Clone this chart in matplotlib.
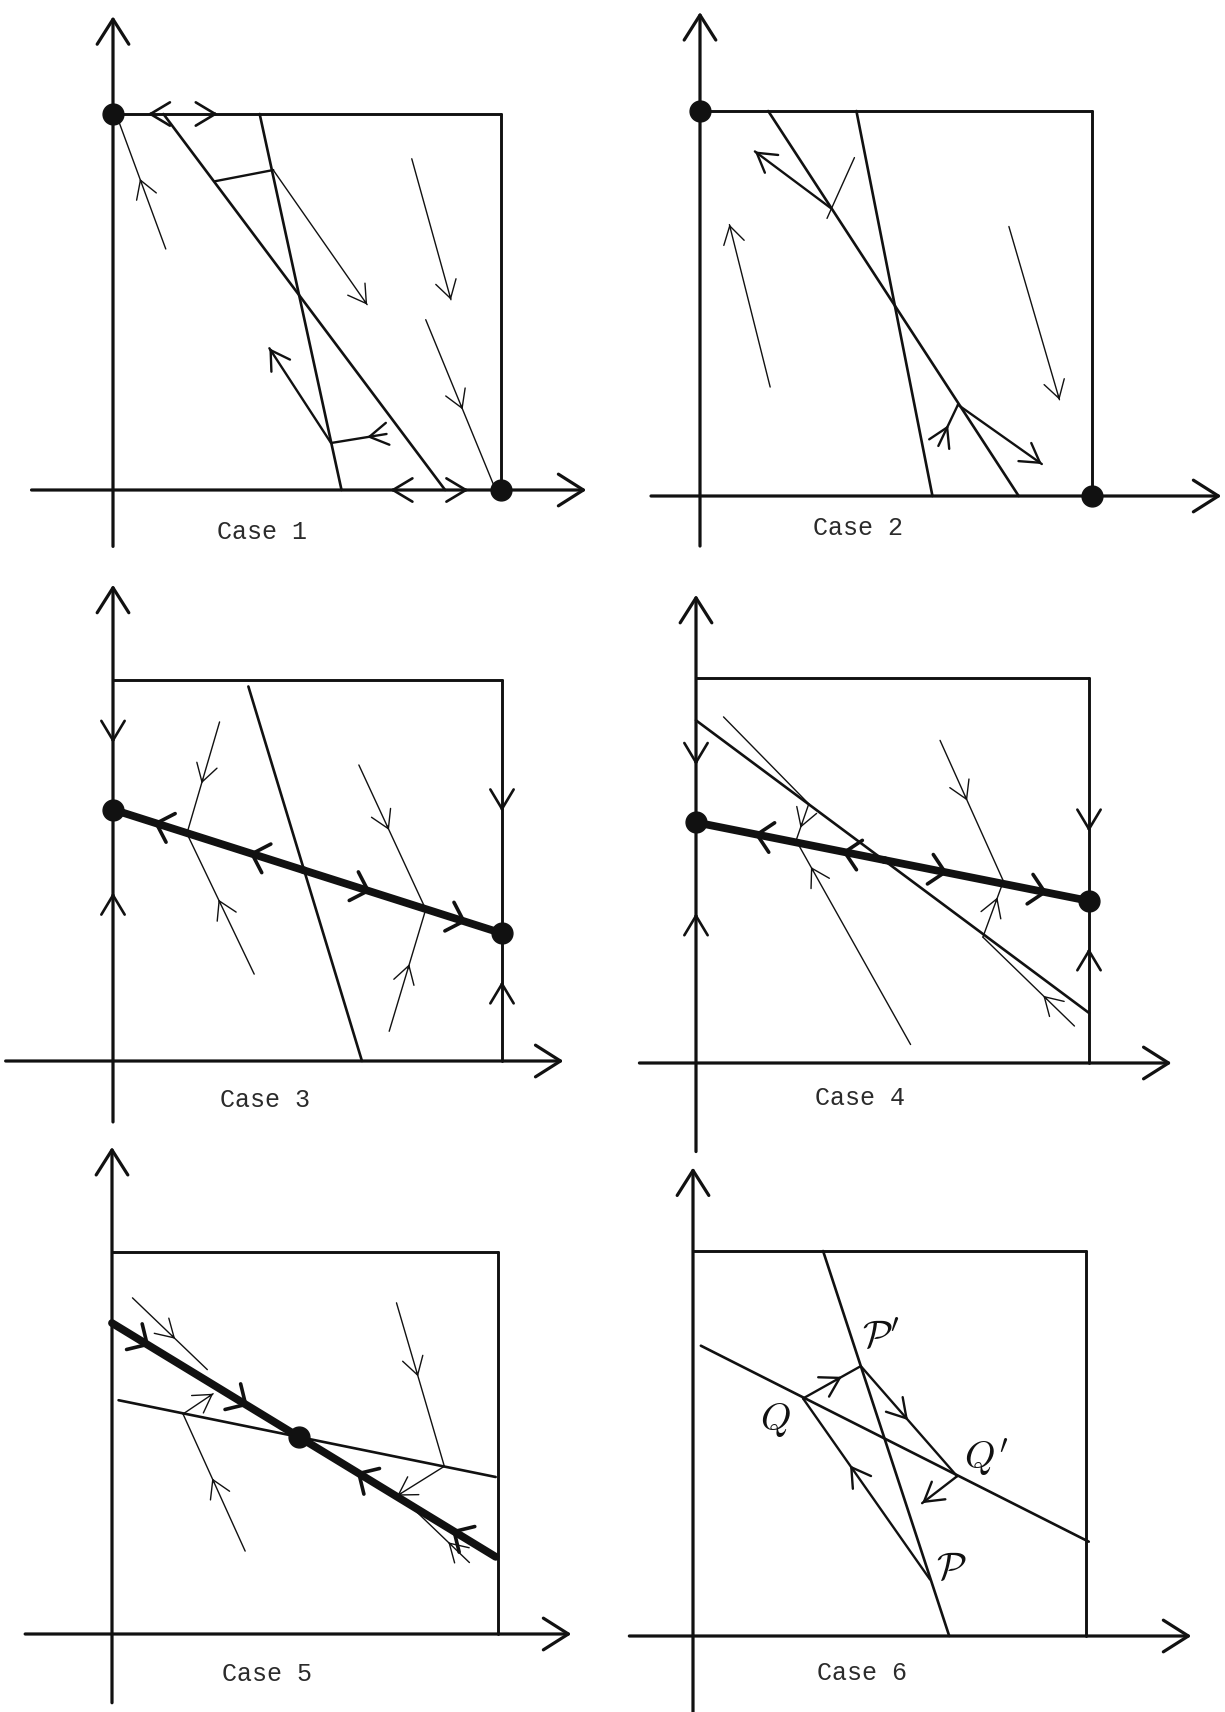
"""Six phase diagrams (Cases 1-6) redrawn from a scanned figure.

Every panel uses its own unit square: the origin sits at (0, 0) and the
corner of the box at (1, 1). Segments run in the direction of the flow, so an
arrowhead placed at fraction t of a segment points the right way.
"""

import matplotlib
matplotlib.use("Agg")
import matplotlib.pyplot as plt
import numpy as np

W, H, DPI = 1225, 1712, 100
INK = "#111111"

CASES = ["Case 1", "Case 2", "Case 3", "Case 4", "Case 5", "Case 6"]

# where each panel's origin lands on the page, and the box size, in pixels
ORIGIN_PX = {"Case 1": (113, 490), "Case 2": (700, 496),
             "Case 3": (113, 1061), "Case 4": (696, 1063),
             "Case 5": (112, 1634), "Case 6": (693, 1636)}
BOX_PX = {"Case 1": (388, 376), "Case 2": (392, 385),
          "Case 3": (389, 381), "Case 4": (393, 385),
          "Case 5": (386, 382), "Case 6": (393, 385)}

# x axis from x_lo to x_hi, y axis from y_lo to y_hi
AXIS_SPAN = {"Case 1": (-0.21, 1.22, -0.15, 1.26),
             "Case 2": (-0.125, 1.33, -0.13, 1.257),
             "Case 3": (-0.276, 1.158, -0.16, 1.25),
             "Case 4": (-0.144, 1.21, -0.23, 1.216),
             "Case 5": (-0.225, 1.19, -0.18, 1.275),
             "Case 6": (-0.162, 1.268, -0.2, 1.217)}

NULLCLINES = {
    "Case 1": [((0.13, 1.0), (0.856, 0.0)), ((0.378, 1.0), (0.589, 0.0))],
    "Case 2": [((0.174, 1.0), (0.813, 0.0)), ((0.399, 1.0), (0.593, 0.0))],
    "Case 3": [((0.348, 0.983), (0.64, 0.0))],
    "Case 4": [((0.0, 0.89), (1.0, 0.13))],
    "Case 5": [((0.017, 0.612), (0.994, 0.411))],
    "Case 6": [((0.331, 1.0), (0.652, 0.0)), ((0.02, 0.754), (1.007, 0.245))],
}

# thin trajectories and where their arrowheads sit (1.0 = at the end)
THIN = {
    "Case 1": [((0.136, 0.641), (0.015, 0.98)), ((0.413, 0.851), (0.655, 0.493)),
               ((0.770, 0.881), (0.871, 0.506)), ((0.806, 0.453), (0.982, 0.011))],
    "Case 2": [((0.179, 0.283), (0.075, 0.705)), ((0.788, 0.70), (0.917, 0.25)),
               ((0.324, 0.721), (0.394, 0.879))],
    "Case 3": [((0.274, 0.89), (0.19, 0.597)), ((0.363, 0.228), (0.19, 0.597)),
               ((0.632, 0.777), (0.804, 0.398)), ((0.71, 0.078), (0.804, 0.398))],
    "Case 4": [((0.07, 0.899), (0.287, 0.673)), ((0.287, 0.673), (0.253, 0.573)),
               ((0.546, 0.048), (0.258, 0.572)), ((0.621, 0.838), (0.785, 0.466)),
               ((0.73, 0.327), (0.78, 0.466)), ((0.963, 0.096), (0.73, 0.327))],
    "Case 5": [((0.053, 0.88), (0.247, 0.692)), ((0.345, 0.217), (0.184, 0.576)),
               ((0.184, 0.576), (0.262, 0.629)), ((0.737, 0.867), (0.861, 0.439)),
               ((0.861, 0.439), (0.739, 0.362)), ((0.926, 0.187), (0.760, 0.348))],
    "Case 6": [],
}
THIN_HEADS = {
    "Case 1": [[0.55], [1.0], [1.0], [0.54]],
    "Case 2": [[1.0], [1.0], []],
    "Case 3": [[0.55], [0.53], [0.45], [0.55]],
    "Case 4": [[], [0.62], [0.88], [0.42], [0.74], [0.34]],
    "Case 5": [[0.57], [0.53], [1.0], [0.45], [1.0], [0.33]],
    "Case 6": [],
}

# medium-weight flow segments
MEDIUM = {
    "Case 1": [((0.262, 0.821), (0.413, 0.851)), ((0.562, 0.125), (0.403, 0.377)),
               ((0.705, 0.149), (0.562, 0.125))],
    "Case 2": [((0.336, 0.746), (0.14, 0.895)), ((0.658, 0.237), (0.872, 0.083)),
               ((0.608, 0.13), (0.658, 0.237))],
    "Case 3": [], "Case 4": [], "Case 5": [],
    "Case 6": [((0.28, 0.617), (0.427, 0.701)), ((0.427, 0.701), (0.672, 0.415)),
               ((0.672, 0.415), (0.583, 0.345)), ((0.603, 0.147), (0.28, 0.617))],
}
MEDIUM_HEADS = {
    "Case 1": [[], [1.0], [0.35]],
    "Case 2": [[1.0], [1.0], [0.5]],
    "Case 3": [], "Case 4": [], "Case 5": [],
    "Case 6": [[0.67], [0.49], [1.0], [0.63]],
}

# heavy separatrix pieces
THICK = {
    "Case 1": [], "Case 2": [],
    "Case 3": [((0.491, 0.5004), (0.0, 0.66)), ((0.491, 0.5004), (1.0, 0.335))],
    "Case 4": [((0.48, 0.527), (0.0, 0.625)), ((0.48, 0.527), (1.0, 0.421))],
    "Case 5": [((0.0, 0.814), (0.484, 0.516)), ((0.994, 0.202), (0.484, 0.516))],
    "Case 6": [],
}
THICK_HEADS = {
    "Case 1": [], "Case 2": [],
    "Case 3": [[0.285, 0.786], [0.336, 0.819]],
    "Case 4": [[0.225, 0.69], [0.308, 0.796]],
    "Case 5": [[0.2, 0.727], [0.222, 0.706]],
    "Case 6": [],
}

# arrowheads sitting on the axes or box edges: x, y, dx, dy
EDGE_HEADS = {
    "Case 1": [(0.09, 1.0, -1, 0), (0.27, 1.0, 1, 0),
               (0.715, 0.0, -1, 0), (0.916, 0.0, 1, 0)],
    "Case 2": [],
    "Case 3": [(0.0, 0.835, 0, -1), (0.0, 0.442, 0, 1),
               (1.0, 0.655, 0, -1), (1.0, 0.209, 0, 1)],
    "Case 4": [(0.0, 0.774, 0, -1), (0.0, 0.389, 0, 1),
               (1.0, 0.601, 0, -1), (1.0, 0.298, 0, 1)],
    "Case 5": [], "Case 6": [],
}

REST_POINTS = {
    "Case 1": [(0.0, 1.0), (1.0, 0.0)],
    "Case 2": [(0.0, 1.0), (1.0, 0.0)],
    "Case 3": [(0.0, 0.66), (1.0, 0.335)],
    "Case 4": [(0.0, 0.625), (1.0, 0.421)],
    "Case 5": [(0.484, 0.516)],
    "Case 6": [],
}

CAPTION_AT = {"Case 1": (0.385, -0.112), "Case 2": (0.404, -0.083),
              "Case 3": (0.391, -0.102), "Case 4": (0.417, -0.091),
              "Case 5": (0.401, -0.104), "Case 6": (0.429, -0.095)}

CYCLE_NAMES = [r"$\mathcal{P}'$", r"$Q$", r"$Q'$", r"$\mathcal{P}$"]
CYCLE_NAME_AT = [(0.479, 0.777), (0.21, 0.561), (0.747, 0.465), (0.657, 0.176)]

plt.rcParams["mathtext.fontset"] = "cm"


def head(ax, p0, p1, t, lw, scale=20, hl=0.7, hw=0.42):
    """Open chevron at fraction t of p0->p1, pointing towards p1."""
    p0, p1 = np.asarray(p0, float), np.asarray(p1, float)
    d = p1 - p0
    d = d / np.hypot(*d)
    tip = p0 + t * (p1 - p0)
    ax.annotate("", xy=tip, xytext=tip - 0.012 * d,
                arrowprops=dict(arrowstyle=f"->,head_length={hl},head_width={hw}",
                                lw=lw, color=INK, shrinkA=0, shrinkB=0,
                                mutation_scale=scale),
                annotation_clip=False)


def seg(ax, a, b, lw, cap="round"):
    ax.plot([a[0], b[0]], [a[1], b[1]], color=INK, lw=lw,
            solid_capstyle=cap, clip_on=False)


fig = plt.figure(figsize=(W / DPI, H / DPI), dpi=DPI)

for case in CASES:
    ox, oy = ORIGIN_PX[case]
    bw, bh = BOX_PX[case]
    x_lo, x_hi, y_lo, y_hi = AXIS_SPAN[case]
    pad = 0.1
    left = ox + (x_lo - pad) * bw
    right = ox + (x_hi + pad) * bw
    top = oy - (y_hi + pad) * bh
    bottom = oy - (y_lo - pad) * bh
    ax = fig.add_axes([left / W, 1 - bottom / H, (right - left) / W, (bottom - top) / H])
    ax.set_xlim(x_lo - pad, x_hi + pad)
    ax.set_ylim(y_lo - pad, y_hi + pad)
    ax.axis("off")

    # coordinate axes with open arrowheads
    axis_arrow = dict(arrowstyle="->,head_length=0.6,head_width=0.38", lw=2.3,
                      color=INK, shrinkA=0, shrinkB=0, mutation_scale=30)
    ax.annotate("", xy=(x_hi, 0), xytext=(x_lo, 0), arrowprops=axis_arrow,
                annotation_clip=False)
    ax.annotate("", xy=(0, y_hi), xytext=(0, y_lo), arrowprops=axis_arrow,
                annotation_clip=False)

    # the box
    seg(ax, (0, 1), (1, 1), 2.1)
    seg(ax, (1, 1), (1, 0), 2.1)

    for a, b in NULLCLINES[case]:
        seg(ax, a, b, 1.9)

    for (a, b), ts in zip(THIN[case], THIN_HEADS[case]):
        seg(ax, a, b, 1.0)
        for t in ts:
            head(ax, a, b, t, 1.0, scale=18)

    for (a, b), ts in zip(MEDIUM[case], MEDIUM_HEADS[case]):
        seg(ax, a, b, 1.7)
        for t in ts:
            head(ax, a, b, t, 1.7, scale=19)

    for (a, b), ts in zip(THICK[case], THICK_HEADS[case]):
        seg(ax, a, b, 5.6)
        for t in ts:
            head(ax, a, b, t, 2.6, scale=24, hl=0.45, hw=0.45)

    for x, y, dx, dy in EDGE_HEADS[case]:
        head(ax, (x - dx, y - dy), (x + dx, y + dy), 0.5, 1.9, scale=20)

    for x, y in REST_POINTS[case]:
        ax.plot(x, y, "o", ms=15, color=INK, zorder=6, clip_on=False)

    cx, cy = CAPTION_AT[case]
    ax.text(cx, cy, case, ha="center", va="center", fontsize=18,
            family=["Liberation Mono", "DejaVu Sans Mono"], color="#2b2b2b")

    if case == "Case 6":
        for name, (x, y) in zip(CYCLE_NAMES, CYCLE_NAME_AT):
            ax.text(x, y, name, ha="center", va="center", fontsize=28, color=INK)

fig.savefig("out.png", dpi=DPI, facecolor="white")
